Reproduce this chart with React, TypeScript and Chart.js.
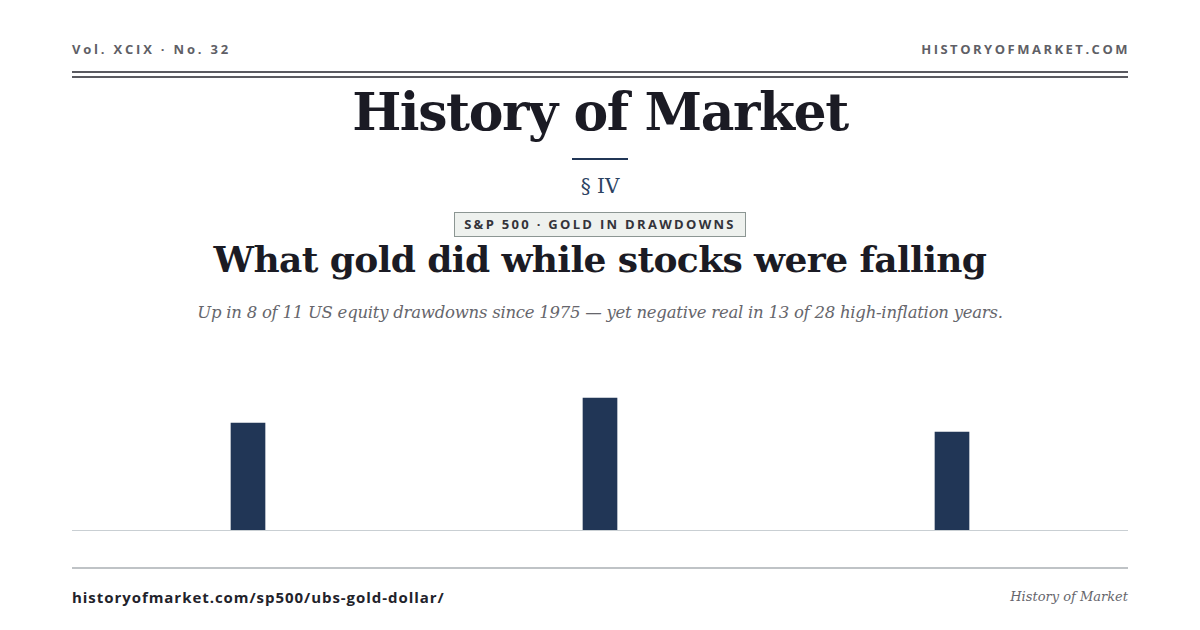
import React, { useEffect, useRef } from "react";
import { Chart, registerables } from "chart.js";

Chart.register(...registerables);

const categories = ["Drawdown I", "Drawdown II", "Drawdown III"];
const goldReturns = [21.4, 26.4, 19.6];
const yMin = 0;
const yMax = 30;

const NAVY = "#213656";
const INK = "#1b1b24";
const SERIF = "'DejaVu Serif', 'Liberation Serif', serif";
const SANS = "'Open Sans', 'Noto Sans', sans-serif";

const baselinePlugin = {
  id: "baseline",
  beforeDatasetsDraw(chart: any) {
    const { ctx, chartArea, scales } = chart;
    const y = Math.round(scales.y.getPixelForValue(0)) + 0.5;
    ctx.save();
    ctx.strokeStyle = "#c9cfd3";
    ctx.lineWidth = 1;
    ctx.beginPath();
    ctx.moveTo(chartArea.left, y);
    ctx.lineTo(chartArea.right, y);
    ctx.stroke();
    ctx.restore();
  },
};

function BarChart() {
  const ref = useRef<HTMLCanvasElement | null>(null);
  useEffect(() => {
    if (!ref.current) return;
    const chart = new Chart(ref.current, {
      type: "bar",
      data: {
        labels: categories,
        datasets: [
          {
            data: goldReturns,
            backgroundColor: NAVY,
            borderWidth: 0,
            barThickness: 34,
          },
        ],
      },
      options: {
        animation: false,
        responsive: false,
        maintainAspectRatio: false,
        layout: { padding: { top: 0, bottom: 1, left: 0, right: 0 } },
        plugins: { legend: { display: false }, tooltip: { enabled: false } },
        scales: {
          x: { display: false },
          y: { display: false, min: yMin, max: yMax },
        },
      },
      plugins: [baselinePlugin],
    });
    return () => chart.destroy();
  }, []);
  return (
    <canvas
      ref={ref}
      width={1056}
      height={151}
      style={{ position: "absolute", left: 72, top: 380, width: 1056, height: 151 }}
    />
  );
}

export default function App() {
  const abs: React.CSSProperties = { position: "absolute" };
  return (
    <div
      style={{
        position: "fixed",
        left: 0,
        top: 0,
        width: 1200,
        height: 630,
        background: "#ffffff",
        overflow: "hidden",
      }}
    >
      <div
        style={{
          ...abs,
          left: 72,
          top: 40,
          fontFamily: SANS,
          fontWeight: 700,
          fontSize: 13,
          letterSpacing: 2.8,
          color: "#5f5f66",
          lineHeight: "18px",
          whiteSpace: "pre",
        }}
      >
        Vol. XCIX · No. 32
      </div>
      <div
        style={{
          ...abs,
          right: 70,
          top: 40,
          fontFamily: SANS,
          fontWeight: 700,
          fontSize: 13,
          letterSpacing: 2.5,
          color: "#5f5f66",
          lineHeight: "18px",
        }}
      >
        HISTORYOFMARKET.COM
      </div>
      <div style={{ ...abs, left: 72, top: 71, width: 1056, height: 2, background: "#5a5a60" }} />
      <div style={{ ...abs, left: 72, top: 76, width: 1056, height: 1.5, background: "#5a5a60" }} />

      <div
        style={{
          ...abs,
          left: 0,
          width: 1200,
          top: 76,
          textAlign: "center",
          fontFamily: SERIF,
          fontWeight: 700,
          fontSize: 52,
          letterSpacing: -1.4,
          lineHeight: "72px",
          color: INK,
        }}
      >
        History of Market
      </div>
      <div style={{ ...abs, left: 572, top: 158, width: 56, height: 2, background: NAVY }} />
      <div
        style={{
          ...abs,
          left: 0,
          width: 1200,
          top: 172,
          textAlign: "center",
          fontFamily: SERIF,
          fontSize: 20,
          lineHeight: "28px",
          color: "#2b4262",
        }}
      >
        § IV
      </div>
      <div
        style={{
          ...abs,
          left: 454,
          top: 212,
          width: 292,
          height: 25,
          boxSizing: "border-box",
          border: "1px solid #8c9693",
          background: "#eef1ee",
          textAlign: "center",
          fontFamily: SANS,
          fontWeight: 700,
          fontSize: 13,
          letterSpacing: 2.3,
          lineHeight: "23px",
          color: "#33333a",
        }}
      >
        S&amp;P 500 · GOLD IN DRAWDOWNS
      </div>
      <div
        style={{
          ...abs,
          left: 0,
          width: 1200,
          top: 233,
          textAlign: "center",
          fontFamily: SERIF,
          fontWeight: 700,
          fontSize: 36,
          letterSpacing: -0.6,
          lineHeight: "52px",
          color: INK,
        }}
      >
        What gold did while stocks were falling
      </div>
      <div
        style={{
          ...abs,
          left: 0,
          width: 1200,
          top: 300,
          textAlign: "center",
          fontFamily: SERIF,
          fontStyle: "italic",
          fontSize: 16.5,
          letterSpacing: -0.25,
          lineHeight: "26px",
          color: "#66666c",
        }}
      >
        Up in 8 of 11 US equity drawdowns since 1975 — yet negative real in 13 of 28 high-inflation years.
      </div>

      <BarChart />

      <div style={{ ...abs, left: 72, top: 567, width: 1056, height: 2, background: "#bfc3c6" }} />
      <div
        style={{
          ...abs,
          left: 72,
          top: 586,
          fontFamily: SANS,
          fontWeight: 700,
          fontSize: 15,
          letterSpacing: 0.95,
          lineHeight: "22px",
          color: "#22222a",
        }}
      >
        historyofmarket.com/sp500/ubs-gold-dollar/
      </div>
      <div
        style={{
          ...abs,
          right: 72,
          top: 587,
          fontFamily: SERIF,
          fontStyle: "italic",
          fontSize: 13,
          lineHeight: "20px",
          color: "#66666c",
        }}
      >
        History of Market
      </div>
    </div>
  );
}
